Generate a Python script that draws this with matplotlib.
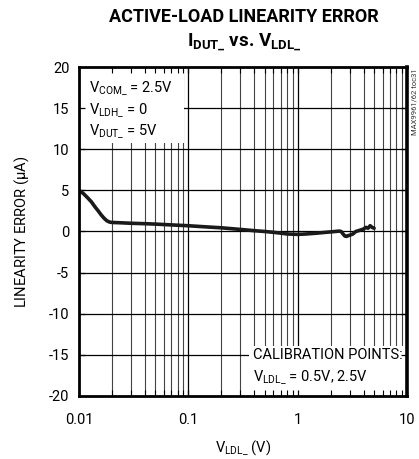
import matplotlib
matplotlib.use("Agg")
import matplotlib.pyplot as plt
from matplotlib.patches import Rectangle
from matplotlib.ticker import LogLocator, FixedLocator, NullFormatter, FixedFormatter

FONT = ['Roboto', 'DejaVu Sans']
plt.rcParams['font.family'] = FONT
plt.rcParams['mathtext.fontset'] = 'custom'
plt.rcParams['mathtext.rm'] = 'Roboto'
plt.rcParams['mathtext.it'] = 'Roboto'
plt.rcParams['mathtext.bf'] = 'Roboto:bold'

# Data
vldl = [0.01, 0.011, 0.012, 0.013, 0.014, 0.015, 0.016, 0.017, 0.018, 0.019, 0.02,
        0.025, 0.03, 0.04, 0.05, 0.07, 0.1, 0.15, 0.2, 0.3, 0.4, 0.5, 0.6, 0.7, 0.8,
        1.0, 1.2, 1.5, 1.8, 2.0, 2.2, 2.4, 2.5, 2.6, 2.7, 2.8, 2.9, 3.0, 3.2, 3.4,
        3.6, 3.8, 4.0, 4.2, 4.4, 4.6, 4.8, 5.0]
err = [5.0, 4.6, 4.1, 3.6, 3.0, 2.5, 2.0, 1.6, 1.3, 1.15, 1.1,
       1.05, 1.0, 0.95, 0.9, 0.8, 0.7, 0.55, 0.45, 0.25, 0.1, 0.0, -0.1, -0.2, -0.3,
       -0.35, -0.3, -0.2, -0.1, -0.05, 0.0, 0.05, 0.0, -0.3, -0.55, -0.6, -0.5, -0.45, -0.3, 0.0,
       0.1, 0.2, 0.3, 0.5, 0.4, 0.7, 0.5, 0.4]

xticks = [0.01, 0.1, 1, 10]
xticklabels = ['0.01', '0.1', '1', '10']
yticks = [-20, -15, -10, -5, 0, 5, 10, 15, 20]

fig = plt.figure(figsize=(4.19, 4.59), dpi=100)
ax = fig.add_axes([0.1885, 0.1373, 0.7829, 0.7167])
ax.set_xscale('log')
ax.set_xlim(0.01, 10)
ax.set_ylim(-20, 20)

# grid (drawn manually, below the white boxes)
for dec in [0.01, 0.1, 1]:
    for m in range(1, 10):
        v = dec * m
        if v <= 0.01 or v >= 10:
            continue
        ax.axvline(v, color='black' if m == 1 else '#444444', lw=0.9 if m == 1 else 0.8, zorder=1)
for yv in yticks[1:-1]:
    ax.axhline(yv, color='black', lw=0.9, zorder=1)

# white boxes
ax.add_patch(Rectangle((0.01, 10.8), 0.092 - 0.01, 9.2, facecolor='white', edgecolor='none', zorder=2))
ax.add_patch(Rectangle((0.36, -20), 10 - 0.36, 6.1, facecolor='white', edgecolor='none', zorder=2))

ax.plot(vldl, err, color='#1a1a1a', lw=2.6, zorder=4, solid_capstyle='round')

ax.set_axisbelow(False)
ax.xaxis.set_major_locator(FixedLocator(xticks))
ax.xaxis.set_major_formatter(FixedFormatter(xticklabels))
ax.xaxis.set_minor_locator(LogLocator(base=10, subs=range(2, 10)))
ax.xaxis.set_minor_formatter(NullFormatter())
ax.set_yticks(yticks)
ax.set_yticklabels([str(v) for v in yticks])
ax.tick_params(which='both', direction='in', top=True, right=True, color='black')
ax.tick_params(which='major', length=4, width=0.9, labelsize=10.5, pad=8)
ax.tick_params(axis='y', which='major', pad=7)
ax.tick_params(axis='x', which='major', pad=12)
ax.tick_params(which='minor', length=4, width=0.8)
for s in ax.spines.values():
    s.set_linewidth(2.0)
    s.set_zorder(5)
ax.spines['right'].set_linewidth(2.6)

ax.set_ylabel(r'LINEARITY ERROR ($\mu$A)', fontsize=10.5, labelpad=13)
ax.set_xlabel(r'V$_{\mathrm{LDL\_}}$ (V)', fontsize=10.5, labelpad=8)

fig.text(0.582, 0.962, 'ACTIVE-LOAD LINEARITY ERROR', ha='center', va='center',
         fontsize=13, fontweight='bold')
fig.text(0.582, 0.907, r'$\mathbf{I_{DUT\_}}$ vs. $\mathbf{V_{LDL\_}}$', ha='center', va='center',
         fontsize=13.5, fontweight='bold')

# annotations
tkw = dict(transform=fig.transFigure, fontsize=10.5, va='center', ha='left', zorder=6)
ax.text(89/419, 1 - 88/459, r'V$_{\mathrm{COM\_}}$ = 2.5V', **tkw)
ax.text(89/419, 1 - 110/459, r'V$_{\mathrm{LDH\_}}$ = 0', **tkw)
ax.text(89/419, 1 - 131/459, r'V$_{\mathrm{DUT\_}}$ = 5V', **tkw)
ax.text(253/419, 1 - 355/459, 'CALIBRATION POINTS:', **tkw)
ax.text(253/419, 1 - 377/459, r'V$_{\mathrm{LDL\_}}$ = 0.5V, 2.5V', **tkw)

fig.text(414/419, 1 - 68/459, 'MAX9961/62 toc31', rotation=90, fontsize=5.5,
         ha='center', va='top', color='#333333')

fig.savefig('out.png', dpi=100)
